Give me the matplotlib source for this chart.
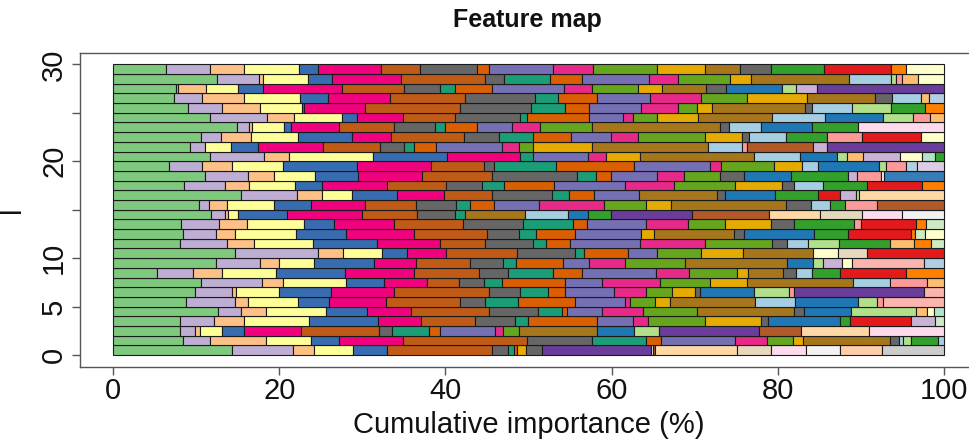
import matplotlib
matplotlib.use("Agg")
import matplotlib.pyplot as plt
import numpy as np

plt.rcParams['font.family'] = ['Liberation Sans', 'DejaVu Sans']

# colour key -> hex (RColorBrewer qualitative palettes)
palette = {
    'g': '#7FC97F', 'l': '#BEAED4', 'p': '#FDC086', 'y': '#FFFF99', 'b': '#386CB0',
    'k': '#F0027F', 'r': '#BF5B17', 'a': '#666666', 't': '#1B9E77', 'o': '#D95F02',
    'u': '#7570B3', 'm': '#E7298A', 'G': '#66A61E', 'd': '#E6AB02', 'B': '#A6761D',
    'L': '#A6CEE3', 'N': '#1F78B4', 'e': '#B2DF8A', 'E': '#33A02C', 'i': '#FB9A99',
    'R': '#E31A1C', 'f': '#FDBF6F', 'O': '#FF7F00', 'v': '#CAB2D6', 'V': '#6A3D9A',
    'Y': '#FFFFCC', 'w': '#B15928', 'q': '#FBB4AE', 'c': '#B3CDE3', 'h': '#CCEBC5',
    'j': '#DECBE4', 's': '#FED9A6', 'x': '#E5D8BD', 'z': '#FDDAEC', 'n': '#F2F2F2',
    'P': '#FDCDAC', 'C': '#CCCCCC', 'M': '#B3E2CD', 'S': '#377EB8',
}

# each row: colour keys of the segments and cumulative importance (%) at segment ends
codes_r29 = "g l p y b k r a o u m G d B a E R O Y".split()
ends_r29 = [6.4, 11.6, 15.8, 22.4, 24.7, 32.3, 36.9, 43.8, 45.2, 53.0, 57.8, 65.5, 71.3, 75.5, 79.2, 85.6, 93.6, 95.4, 100]
codes_r28 = "g l p y b k r a t o u m G d B L e i f Y".split()
ends_r28 = [12.5, 17.5, 18.0, 23.5, 26.4, 34.6, 44.8, 47.1, 52.6, 56.4, 64.5, 68.0, 74.3, 76.8, 88.6, 93.7, 94.3, 95.0, 96.9, 100]
codes_r27 = "g l p y b k r a t o u m G d B a N e v V".split()
ends_r27 = [7.6, 7.8, 11.2, 15.0, 18.0, 27.5, 35.0, 39.4, 41.2, 45.6, 54.3, 57.7, 63.2, 66.1, 71.4, 73.8, 80.5, 82.2, 84.7, 100]
codes_r26 = "g l p y b k r a t o u m G d B a L f c".split()
ends_r26 = [7.3, 10.7, 15.7, 22.5, 25.8, 33.3, 42.3, 50.8, 53.5, 58.3, 64.6, 70.8, 76.3, 83.5, 91.7, 93.8, 97.2, 98.2, 100]
codes_r25 = "g l p y b k r a t o u m G d B a L e E O".split()
ends_r25 = [9.0, 13.1, 17.7, 22.7, 23.0, 30.3, 41.8, 50.3, 54.4, 57.3, 63.5, 68.0, 70.3, 72.1, 83.3, 84.1, 88.9, 93.7, 97.7, 100]
codes_r24 = "g l p y b k r a t o u m G d B L N e i f".split()
ends_r24 = [11.7, 18.5, 21.8, 27.5, 29.4, 34.9, 41.1, 49.0, 49.8, 57.3, 61.4, 62.6, 65.5, 70.4, 79.3, 85.7, 92.7, 96.3, 98.4, 100]
codes_r23 = "g l p y b k r a t o u m G B a L N E z".split()
ends_r23 = [14.9, 16.4, 16.7, 20.6, 21.4, 27.2, 33.8, 38.7, 39.9, 43.8, 48.0, 51.4, 57.7, 73.1, 74.1, 78.0, 84.1, 89.7, 100]
codes_r22 = "g l p y b k r a t o u m G d a L E i R Y".split()
ends_r22 = [10.6, 13.0, 16.6, 22.2, 28.7, 33.4, 42.2, 46.5, 50.5, 55.1, 59.9, 63.2, 71.3, 75.7, 76.5, 81.0, 86.0, 90.1, 97.3, 100]
codes_r21 = "g l y b k r a t o u m G d B L i w v V".split()
ends_r21 = [9.2, 11.1, 14.2, 17.4, 25.3, 32.1, 35.0, 36.2, 38.9, 46.8, 48.8, 50.5, 57.7, 71.6, 75.7, 76.3, 84.3, 86.0, 100]
codes_r20 = "g l p y b k t u m d B L N e f v Y M E".split()
ends_r20 = [11.6, 18.1, 21.2, 31.3, 40.2, 49.0, 50.5, 57.2, 59.3, 63.4, 77.1, 82.7, 87.2, 88.4, 90.3, 94.7, 97.4, 99.0, 100]
codes_r19 = "g l p y b k r a t o u m G d L N e i c j".split()
ends_r19 = [6.7, 10.7, 14.3, 20.5, 29.3, 38.3, 44.7, 45.8, 53.3, 62.7, 71.8, 73.2, 79.6, 82.9, 84.9, 92.2, 93.1, 95.5, 96.8, 100]
codes_r18 = "g l p y b k r a t o u m G a N E v i n S".split()
ends_r18 = [11.0, 16.2, 19.4, 24.3, 29.5, 37.2, 45.6, 55.8, 58.1, 59.9, 65.5, 68.7, 73.1, 75.9, 81.6, 88.5, 89.5, 92.5, 92.8, 100]
codes_r17 = "g l p y b k r a t o u m G d a L E R O".split()
ends_r17 = [8.5, 13.5, 16.4, 21.9, 25.1, 33.0, 40.1, 44.4, 47.0, 53.1, 61.6, 67.5, 74.9, 80.5, 82.0, 85.4, 90.7, 97.4, 100]
codes_r16 = "g l p y b k r a t o u B a N E R v e s".split()
ends_r16 = [15.4, 22.1, 25.1, 28.7, 34.2, 39.8, 45.6, 52.8, 54.9, 57.9, 63.3, 72.7, 73.7, 79.7, 84.8, 87.5, 89.4, 89.8, 100]
codes_r15 = "g l p y b k r a t o u m G d B a L E i w".split()
ends_r15 = [10.3, 11.5, 13.7, 19.3, 23.8, 30.3, 36.5, 41.3, 42.9, 45.9, 51.3, 59.1, 64.1, 67.2, 81.0, 84.0, 86.3, 88.1, 92.0, 100]
codes_r14 = "g l p y b k r a t B L N E V w s x z n".split()
ends_r14 = [11.8, 13.5, 13.8, 15.0, 20.9, 29.9, 36.6, 41.1, 42.3, 49.6, 54.8, 57.2, 59.9, 69.7, 78.9, 85.1, 90.1, 95.0, 100]
codes_r13 = "g l p y b k r a t o u m G d a E i R O h".split()
ends_r13 = [8.2, 12.7, 16.1, 23.0, 26.6, 33.8, 42.1, 49.3, 55.3, 57.1, 64.1, 69.2, 73.7, 79.2, 82.0, 89.2, 90.0, 96.6, 97.8, 100]
codes_r12 = "g l p y b k r a t o u d B a N E R O h Y".split()
ends_r12 = [8.4, 12.4, 14.7, 22.0, 28.0, 36.2, 45.0, 48.8, 50.9, 55.6, 63.5, 65.1, 74.8, 76.0, 84.4, 88.5, 96.0, 96.5, 97.7, 100]
codes_r11 = "g l p y b k r a t o u m G a L e E f O h".split()
ends_r11 = [8.0, 13.7, 17.0, 24.0, 31.7, 39.3, 44.8, 50.5, 52.1, 55.0, 63.4, 71.2, 79.3, 81.1, 83.6, 87.4, 93.5, 96.4, 98.5, 100]
codes_r10 = "g l p y b k r a t o u G d B Y x R".split()
ends_r10 = [14.7, 24.6, 27.7, 32.4, 35.4, 40.1, 48.6, 55.6, 56.7, 62.0, 65.5, 70.8, 75.8, 84.2, 87.3, 90.7, 100]
codes_r09 = "g l p y b k r a t o u m G B N e v Y q c".split()
ends_r09 = [12.4, 17.7, 20.0, 24.2, 31.4, 36.5, 42.9, 46.9, 48.5, 54.2, 57.3, 61.6, 68.8, 81.1, 84.2, 85.4, 87.8, 88.9, 97.6, 100]
codes_r08 = "g l p y b k r a t o u m G d B a L E R O".split()
ends_r08 = [5.3, 9.6, 13.1, 19.6, 27.9, 36.2, 44.1, 47.5, 53.0, 56.5, 65.4, 69.3, 75.1, 76.4, 80.7, 82.2, 84.1, 87.5, 95.4, 100]
codes_r07 = "g l p y b k r a t o u m G d B L i f".split()
ends_r07 = [10.6, 17.9, 20.5, 28.0, 32.6, 37.8, 41.6, 44.6, 46.8, 54.4, 58.9, 65.8, 71.8, 76.3, 89.1, 93.5, 98.0, 100]
codes_r06 = "g l p y b k r a t o u m G d a N e i V q".split()
ends_r06 = [9.8, 14.3, 14.8, 20.0, 26.2, 33.8, 45.2, 49.0, 52.4, 54.4, 60.3, 64.1, 67.3, 70.0, 70.6, 77.1, 81.4, 82.0, 97.6, 100]
codes_r05 = "g l p y b k r a t o u m G d B L N e i q".split()
ends_r05 = [8.8, 14.7, 16.2, 22.2, 26.0, 32.9, 41.8, 44.8, 48.7, 55.6, 61.6, 62.2, 65.2, 67.0, 77.3, 82.1, 89.7, 91.9, 92.7, 100]
codes_r04 = "g l p y b k r a t o u m G B a N e f Y M".split()
ends_r04 = [12.6, 15.4, 18.4, 25.6, 30.5, 35.8, 45.3, 51.2, 54.0, 54.6, 58.9, 63.8, 70.3, 82.0, 83.2, 88.8, 96.6, 98.0, 98.8, 100]
codes_r03 = "g l p y b k r a t o u m G d a N E R v h".split()
ends_r03 = [8.0, 12.1, 15.8, 23.6, 31.9, 37.0, 43.6, 48.4, 50.0, 58.2, 62.6, 64.4, 71.2, 78.0, 78.8, 87.5, 88.7, 96.0, 99.0, 100]
codes_r02 = "g l p y b k r a t o u m G B N e V w s z".split()
ends_r02 = [8.0, 9.8, 10.5, 13.1, 15.8, 22.6, 32.0, 33.6, 38.0, 39.4, 46.0, 46.9, 48.9, 58.2, 62.7, 65.7, 77.8, 82.8, 91.0, 100]
codes_r01 = "g l p y b k r a t o u m G d B a L e E L".split()
ends_r01 = [8.4, 11.7, 18.4, 23.8, 27.2, 34.9, 49.8, 57.7, 64.2, 65.9, 74.9, 78.7, 81.9, 83.0, 93.5, 94.6, 95.1, 96.1, 99.3, 100]
codes_r00 = "g l p y b r a t o d a V n w s x z n P C".split()
ends_r00 = [14.3, 21.6, 24.2, 28.9, 33.0, 45.6, 47.5, 48.2, 48.6, 49.7, 51.6, 64.7, 65.0, 65.2, 75.1, 79.2, 83.4, 87.5, 92.6, 100]

rows = [
    (codes_r00, ends_r00), (codes_r01, ends_r01), (codes_r02, ends_r02), (codes_r03, ends_r03),
    (codes_r04, ends_r04), (codes_r05, ends_r05), (codes_r06, ends_r06), (codes_r07, ends_r07),
    (codes_r08, ends_r08), (codes_r09, ends_r09), (codes_r10, ends_r10), (codes_r11, ends_r11),
    (codes_r12, ends_r12), (codes_r13, ends_r13), (codes_r14, ends_r14), (codes_r15, ends_r15),
    (codes_r16, ends_r16), (codes_r17, ends_r17), (codes_r18, ends_r18), (codes_r19, ends_r19),
    (codes_r20, ends_r20), (codes_r21, ends_r21), (codes_r22, ends_r22), (codes_r23, ends_r23),
    (codes_r24, ends_r24), (codes_r25, ends_r25), (codes_r26, ends_r26), (codes_r27, ends_r27),
    (codes_r28, ends_r28), (codes_r29, ends_r29),
]

x_ticks = [0, 20, 40, 60, 80, 100]
y_ticks = [0, 5, 10, 15, 20, 25, 30]
y_ticklabels = ['0', '5', '10', '', '20', '', '30']

W, H = 970, 440
fig = plt.figure(figsize=(W / 100, H / 100), dpi=100)
L, R, T, B = 80, 977, 52.7, 366.7
ax = fig.add_axes([L / W, 1 - B / H, (R - L) / W, (B - T) / H])

for i, (codes, ends) in enumerate(rows):
    ends = np.asarray(ends, dtype=float)
    lefts = np.concatenate([[0.0], ends[:-1]])
    widths = ends - lefts
    cols = [palette[c] for c in codes]
    ax.barh(np.full(len(ends), i), widths, left=lefts, height=1.0, align='edge',
            color=cols, edgecolor='#1a1a1a', linewidth=0.8)

ax.set_xlim(-4, 104)
ax.set_ylim(-1.2, 31.2)
for s in ax.spines.values():
    s.set_color('#555555')
    s.set_linewidth(1.0)

ax.set_xticks(x_ticks)
ax.set_xticklabels([str(v) for v in x_ticks])
ax.set_yticks(y_ticks)
ax.set_yticklabels(y_ticklabels, rotation=90, va='center')
ax.tick_params(axis='both', direction='out', length=5.5, width=1.0, color='#555555',
               labelsize=21, labelcolor='#111111')
ax.tick_params(axis='x', pad=2)
ax.tick_params(axis='y', pad=3)

ax.set_xlabel('Cumulative importance (%)', fontsize=21, color='#111111', labelpad=4)
ax.set_ylabel('l', fontsize=21, color='#111111', labelpad=10)
fig.text(527 / W, 1 - 20 / H, 'Feature map', ha='center', va='center',
         fontsize=18, fontweight='bold', color='#111111')

fig.savefig('out.png', dpi=100)
